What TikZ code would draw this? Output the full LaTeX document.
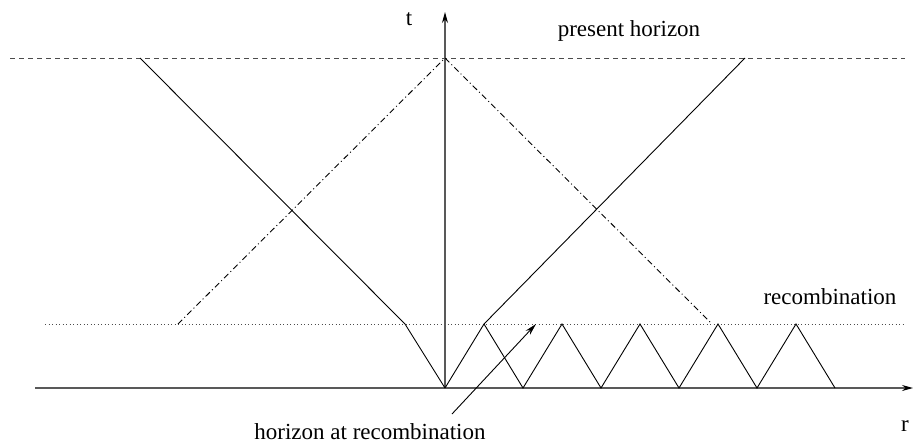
\documentclass[tikz,border=0pt]{standalone}
\usepackage{fontspec}
\setmainfont{Liberation Serif}
\usetikzlibrary{arrows.meta}
\begin{document}
\begin{tikzpicture}[x=1pt,y=-1pt,
  lbl/.style={font=\fontsize{23}{27}\selectfont, inner sep=0pt},
  axisline/.style={line width=1.2pt, draw=black!65, -{Stealth[length=11pt,width=6pt,black]}},
  thin/.style={line width=0.9pt, black},
  presenth/.style={line width=0.9pt, black!70, dash pattern=on 5pt off 4pt},
  recomb/.style={line width=0.9pt, black!70, dash pattern=on 1pt off 2.5pt},
  lightcone/.style={line width=0.9pt, black, dash pattern=on 6pt off 3pt on 1pt off 3pt}]
\useasboundingbox (0,0) rectangle (914,445);
% coordinates
\coordinate (o) at (445,388);
\coordinate (xs) at (35,388);
\coordinate (xe) at (913,388);
\coordinate (ye) at (445,12);
\coordinate (phl) at (10,58);
\coordinate (phr) at (905,58);
\coordinate (rcl) at (45,324);
\coordinate (rcr) at (903,324);
\coordinate (top) at (445,58);
\coordinate (dl) at (178,324);
\coordinate (dr) at (712,324);
\coordinate (ltop) at (140,58);
\coordinate (lk) at (405,324);
\coordinate (rtop) at (745,58);
\coordinate (rk) at (484,324);
\coordinate (as) at (452,414);
\coordinate (ae) at (536,324);
% horizons
\draw[presenth] (phl) -- (phr);
\draw[recomb] (rcl) -- (rcr);
% axes
\draw[axisline] (xs) -- (xe);
\draw[axisline] (o) -- (ye);
% light cone of present
\draw[lightcone] (dl) -- (top) -- (dr);
% worldlines
\draw[thin] (ltop) -- (lk) -- (o);
\draw[thin] (rtop) -- (rk) -- (o);
% zigzag
\draw[thin] (rk) -- (523,388) -- (562,324) -- (601,388) -- (640,324) -- (679,388) -- (718,324) -- (757,388) -- (796,324) -- (835,388);
% arrow
\draw[line width=0.9pt, -{Stealth[length=12pt,width=6pt]}] (as) -- (ae);
% labels
\node[lbl] (t) at (409,19) {t};
\node[lbl] (r) at (905,426) {r};
\node[lbl] (ph) at (629,31) {present horizon};
\node[lbl] (rc) at (830,297) {recombination};
\node[lbl] (har) at (370,432) {horizon at recombination};
\end{tikzpicture}
\end{document}
